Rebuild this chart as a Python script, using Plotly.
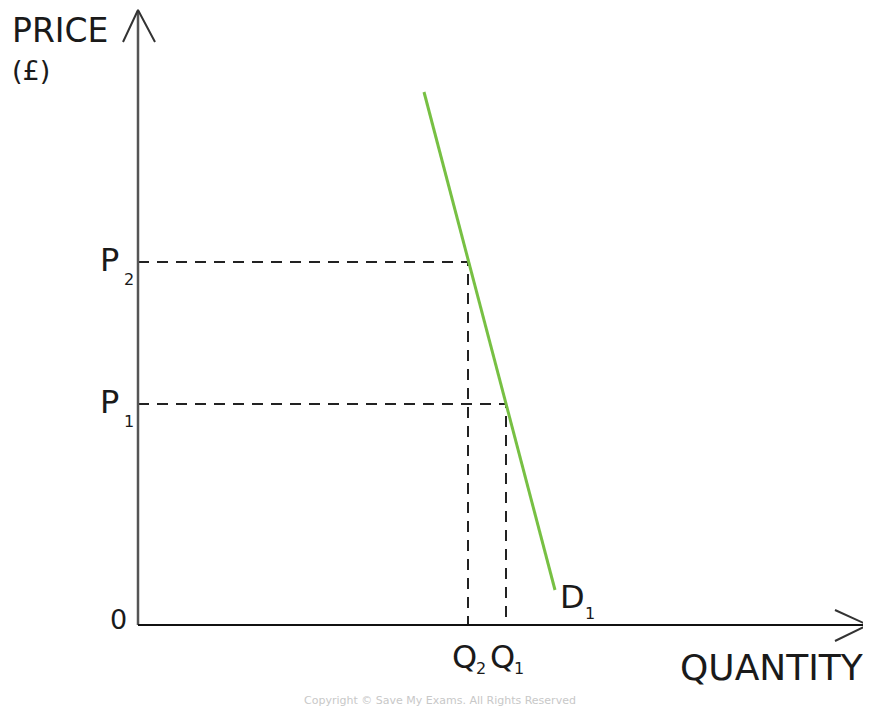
import plotly.graph_objects as go

# Data (arbitrary units: origin at the axes' corner)
demand_q = [286, 417]
demand_p = [533, 35]
price_labels = ["P", "P"]
price_subs = ["1", "2"]
price_levels = [221, 363]
qty_labels = ["Q", "Q"]
qty_subs = ["1", "2"]
qty_levels = [368, 330]

FONT = "DejaVu Sans"
fig = go.Figure()

# dashed guide lines
for p, q in zip(price_levels, qty_levels):
    fig.add_trace(go.Scatter(x=[0, q, q], y=[p, p, 0], mode="lines",
                             line=dict(color="#222222", width=2, dash="11px,8px"),
                             hoverinfo="skip", showlegend=False))

# demand curve
fig.add_trace(go.Scatter(x=demand_q, y=demand_p, mode="lines",
                         line=dict(color="#77c043", width=3),
                         hoverinfo="skip", showlegend=False))

# axes
fig.add_trace(go.Scatter(x=[0, 0], y=[0, 614], mode="lines",
                         line=dict(color="#555555", width=2.5), hoverinfo="skip", showlegend=False))
fig.add_trace(go.Scatter(x=[0, 728], y=[0, 0], mode="lines",
                         line=dict(color="#111111", width=2), hoverinfo="skip", showlegend=False))
# arrow heads
fig.add_trace(go.Scatter(x=[-15, 0, 17], y=[583, 615, 583], mode="lines",
                         line=dict(color="#333333", width=2), hoverinfo="skip", showlegend=False))
fig.add_trace(go.Scatter(x=[697, 730, 697], y=[15, 0, -16], mode="lines",
                         line=dict(color="#333333", width=2), hoverinfo="skip", showlegend=False))

ann = []
def txt(x, y, s, size, color="#1a1a1a", xanchor="center", yanchor="middle"):
    ann.append(dict(x=x, y=y, text=s, showarrow=False, xanchor=xanchor, yanchor=yanchor,
                    font=dict(family=FONT, size=size, color=color)))

txt(-128, 595, "PRICE", 33, xanchor="left")
txt(-128, 555, "(£)", 27, xanchor="left")
txt(-20, 6, "0", 27, xanchor="center")

for lab, sub, p in zip(price_labels, price_subs, price_levels):
    txt(-17, p + 2, lab, 32, xanchor="right")
    txt(-16, p - 17, sub, 16, xanchor="left")
for lab, sub, q in zip(qty_labels, qty_subs, qty_levels):
    txt(q - 4, -32, lab, 32)
    txt(q + 13, -43, sub, 16)

txt(420, 28, "D", 32, xanchor="left")
txt(445, 12, "1", 16, xanchor="left")
txt(728, -42, "QUANTITY", 36, xanchor="right")
txt(302, -75, "Copyright © Save My Exams. All Rights Reserved", 11, color="#c8c8c8")

fig.update_layout(
    width=871, height=710, margin=dict(l=0, r=0, t=0, b=0),
    paper_bgcolor="white", plot_bgcolor="white",
    xaxis=dict(range=[-130, 741], visible=False, fixedrange=True),
    yaxis=dict(range=[-93, 617], visible=False, fixedrange=True),
    annotations=ann, showlegend=False,
)
fig.write_html("out.html")
